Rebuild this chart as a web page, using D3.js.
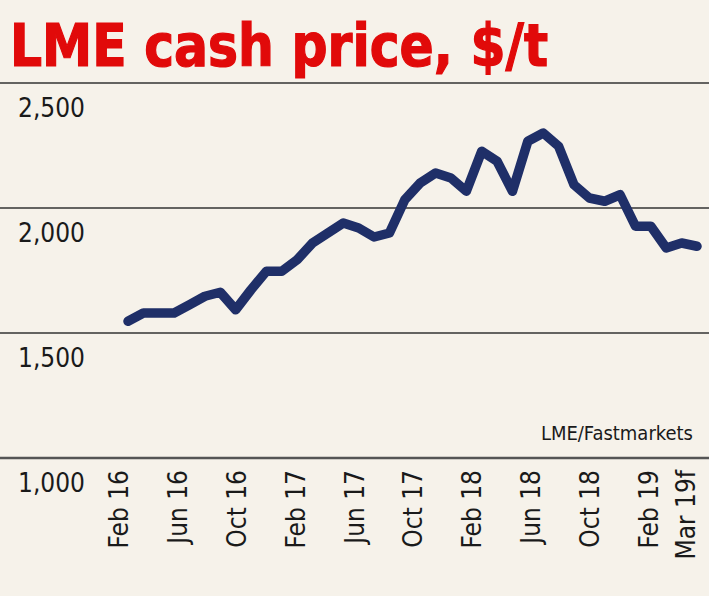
<!DOCTYPE html><html><head><meta charset="utf-8"><script src="https://cdn.jsdelivr.net/npm/d3@7"></script>
<style>body{margin:0;background:#f6f2ea}svg{display:block}text{font-family:"Liberation Sans Narrow","DejaVu Sans Condensed","Open Sans",sans-serif}</style></head><body><svg id="c" width="709" height="596"></svg>
<script>
const values=[1547,1580,1580,1580,1613,1647,1663,1593,1673,1747,1747,1793,1860,1900,1940,1920,1884,1900,2033,2100,2140,2120,2067,2227,2187,2067,2267,2300,2247,2093,2040,2027,2053,1927,1927,1840,1860,1847];
const yTicks=[1000,1500,2000,2500];
const xLabels=[[0,"Feb 16"],[4,"Jun 16"],[8,"Oct 16"],[12,"Feb 17"],[16,"Jun 17"],[20,"Oct 17"],[24,"Feb 18"],[28,"Jun 18"],[32,"Oct 18"],[36,"Feb 19"],[37,"Mar 19f"]];
const svg=d3.select("#c");
svg.append("rect").attr("width",709).attr("height",596).attr("fill","#f6f2ea");
svg.append("text").attr("x",10).attr("y",66).attr("fill","#e10a0a").attr("font-weight","bold").attr("font-size",58).attr("textLength",538).attr("lengthAdjust","spacingAndGlyphs").attr("stroke","#e10a0a").attr("stroke-width",1.2).text("LME cash price, $/t");
const y=d3.scaleLinear().domain([1000,2500]).range([458,83]);
const x=d3.scaleLinear().domain([0,37]).range([128,697]);
const xl=d3.scaleLinear().domain([0,36]).range([128,658]);
yTicks.forEach(t=>{
 svg.append("line").attr("x1",0).attr("x2",709).attr("y1",y(t)).attr("y2",y(t)).attr("stroke",t==1000?"#555":"#333").attr("stroke-width",t==1000?2.5:1.3);
 svg.append("text").attr("x",18).attr("y",y(t)+34).attr("font-size",26).attr("fill","#1a1a1a").text(d3.format(",")(t));
});
svg.append("text").attr("x",693).attr("y",440).attr("text-anchor","end").attr("font-size",20).attr("fill","#1a1a1a").text("LME/Fastmarkets");
xLabels.forEach(([m,l],i)=>{
 const px=i==10?695:xl(m);
 svg.append("text").attr("transform",`translate(${px},470) rotate(-90)`).attr("text-anchor","end").attr("font-size",26).attr("fill","#1a1a1a").text(l);
});
svg.append("path").datum(values).attr("fill","none").attr("stroke","#1f2f68").attr("stroke-width",9.5).attr("stroke-linejoin","round").attr("stroke-linecap","round")
 .attr("d",d3.line().x((d,i)=>x(i)).y(d=>y(d)));
</script></body></html>
